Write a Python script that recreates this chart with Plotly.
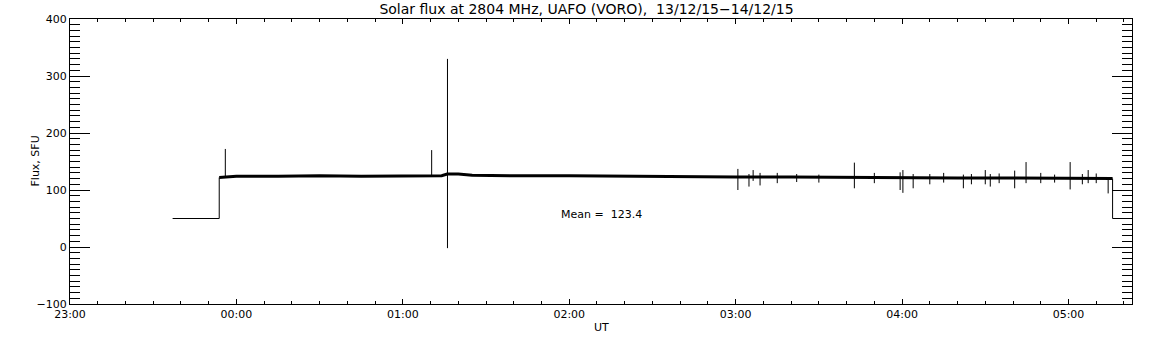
import plotly.graph_objects as go
from datetime import datetime, timedelta

BASE = datetime(2015, 12, 13, 23, 0, 0)

# Step segments (minutes after 23:00, SFU)
step_min = [37.0, 53.8, 53.8]
step_val = [50, 50, 122]
tail_min = [375.9, 375.9, 382.9]
tail_val = [120, 50, 50]

# Baseline (minutes after 23:00, SFU)
base_min = [53.8, 60, 75, 90, 105, 120, 130, 134, 136, 140, 145, 160, 180, 200,
            220, 240, 260, 280, 300, 320, 340, 360, 375.9]
base_val = [122, 124, 124, 125, 124, 124, 124, 125, 128, 128, 126, 125, 125, 124,
            124, 123, 123, 122, 122, 121, 121, 121, 120]

# Spikes: minute, low, high
spike_min = [56.0, 130.4, 136.1, 240.8, 244.8, 246.3, 248.8, 255, 262, 270, 282.8,
             290, 299.3, 300.3, 304.0, 310, 315, 322.1, 325, 330.0, 331.8, 335,
             340.6, 344.7, 350, 355, 360.6, 365, 367.1, 370, 374.3]
spike_low = [122, 124, -2, 100, 106, 116, 108, 112, 114, 113, 103,
             112, 100, 95, 103, 110, 113, 103, 110, 110, 106, 112,
             103, 112, 112, 113, 101, 110, 112, 112, 94]
spike_high = [172, 170, 330, 137, 128, 135, 130, 130, 128, 127, 148,
              130, 131, 135, 128, 128, 130, 127, 128, 135, 128, 129,
              134, 149, 130, 127, 149, 128, 135, 129, 122]

X_RANGE_MIN = [0, 382.9]
Y_RANGE = [-100, 400]

TITLE = "Solar flux at 2804 MHz, UAFO (VORO),\u00a0\u00a013/12/15\u221214/12/15"
X_TITLE = "UT"
Y_TITLE = "Flux, SFU"
MEAN_TEXT = "Mean =\u00a0\u00a0123.4"
MEAN_POS = (176.7, 56.7)


def t(m):
    return BASE + timedelta(minutes=m)


W, H = 1152, 345
PLOT_L, PLOT_R, PLOT_T, PLOT_B = 70, 1132, 19, 304

fig = go.Figure()

fig.add_trace(go.Scatter(
    x=[t(m) for m in step_min], y=step_val, mode="lines",
    line=dict(color="black", width=1), showlegend=False, hoverinfo="skip"))
fig.add_trace(go.Scatter(
    x=[t(m) for m in tail_min], y=tail_val, mode="lines",
    line=dict(color="black", width=1), showlegend=False, hoverinfo="skip"))
fig.add_trace(go.Scatter(
    x=[t(m) for m in base_min], y=base_val, mode="lines",
    line=dict(color="black", width=3), showlegend=False, hoverinfo="skip"))

sx, sy = [], []
for m, lo, hi in zip(spike_min, spike_low, spike_high):
    sx += [t(m), t(m), None]
    sy += [lo, hi, None]
fig.add_trace(go.Scatter(
    x=sx, y=sy, mode="lines", connectgaps=False,
    line=dict(color="black", width=1), showlegend=False, hoverinfo="skip"))

fig.add_annotation(x=t(MEAN_POS[0]), y=MEAN_POS[1], xref="x", yref="y",
                   text=MEAN_TEXT, showarrow=False, xanchor="left", yanchor="middle",
                   borderpad=0, font=dict(size=11, color="black"))
fig.add_annotation(x=0.5, y=(PLOT_B - 327) / (PLOT_B - PLOT_T),
                   xref="paper", yref="paper", text=X_TITLE,
                   showarrow=False, xanchor="center", yanchor="middle",
                   font=dict(size=11, color="black"))
fig.add_annotation(x=(35 - PLOT_L) / (PLOT_R - PLOT_L), y=0.5,
                   xref="paper", yref="paper", text=Y_TITLE,
                   showarrow=False, xanchor="center", yanchor="middle", textangle=-90,
                   font=dict(size=11, color="black"))

FONT = "DejaVu Sans"
fig.update_layout(
    width=W, height=H,
    margin=dict(l=PLOT_L, r=W - PLOT_R, t=PLOT_T, b=H - PLOT_B, autoexpand=False),
    paper_bgcolor="white", plot_bgcolor="white",
    font=dict(family=FONT, size=11, color="black"),
    title=dict(text=TITLE, x=586.5 / W, xanchor="center",
               y=1 - 9 / H, yanchor="middle",
               font=dict(size=14, color="black")),
    xaxis=dict(
        type="date", range=[t(X_RANGE_MIN[0]), t(X_RANGE_MIN[1])],
        tickformat="%H:%M", dtick=3600000, tick0=BASE,
        ticks="inside", ticklen=5, tickwidth=1, tickcolor="black",
        minor=dict(dtick=600000, ticks="inside", ticklen=3, tickcolor="black", tickwidth=1),
        showline=True, linecolor="black", linewidth=1, mirror="ticks",
        showgrid=False, zeroline=False, automargin=False,
    ),
    yaxis=dict(
        range=Y_RANGE, dtick=100, tick0=0,
        ticks="inside", ticklen=20, tickwidth=1, tickcolor="black",
        minor=dict(dtick=10, ticks="inside", ticklen=10, tickcolor="black", tickwidth=1),
        showline=True, linecolor="black", linewidth=1, mirror="ticks",
        showgrid=False, zeroline=False, automargin=False,
    ),
)

# the page's default 8px body margin would shift the whole figure
fig.write_html("out.html", config={"displayModeBar": False},
               post_script="document.body.style.margin='0';")
